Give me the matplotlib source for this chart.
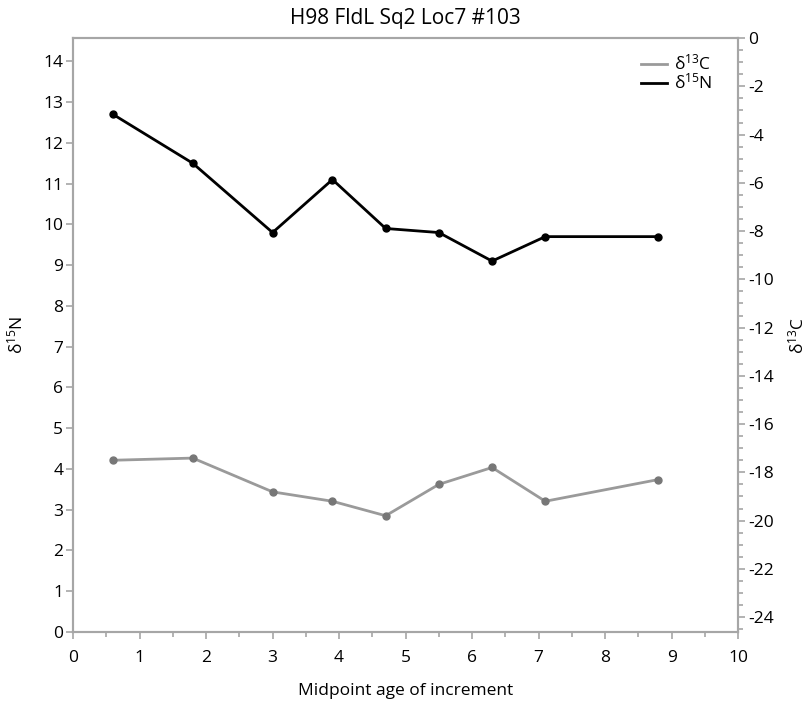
import matplotlib
matplotlib.use("Agg")
import matplotlib.pyplot as plt
from matplotlib.ticker import MultipleLocator

plt.rcParams['font.family'] = ['Open Sans', 'DejaVu Sans']
plt.rcParams['mathtext.fontset'] = 'custom'
plt.rcParams['mathtext.rm'] = 'Open Sans'
plt.rcParams['mathtext.it'] = 'Open Sans:italic'
plt.rcParams['axes.unicode_minus'] = False

title = "H98 FldL Sq2 Loc7 #103"
x_age = [0.6, 1.8, 3.0, 3.9, 4.7, 5.5, 6.3, 7.1, 8.8]
d15N = [12.7, 11.5, 9.8, 11.1, 9.9, 9.8, 9.1, 9.7, 9.7]
d13C = [-17.50, -17.41, -18.81, -19.2, -19.8, -18.50, -17.80, -19.2, -18.3]

spine_col = '#a6a6a6'
fig = plt.figure(figsize=(8.12, 7.02), dpi=100)
ax = fig.add_axes([0.09, 0.0997, 0.819, 0.846])
ax2 = ax.twinx()

lC, = ax2.plot(x_age, d13C, color='#9a9a9a', lw=2.0, marker='o', ms=5,
               mfc='#777777', mec='#777777', label=r'δ$^{13}$C')
lN, = ax.plot(x_age, d15N, color='black', lw=2.0, marker='o', ms=5,
              label=r'δ$^{15}$N')

ax.set_xlim(0, 10)
ax.set_ylim(0, 14.57)
ax2.set_ylim(-24.62, 0)
ax.xaxis.set_major_locator(MultipleLocator(1))
ax.xaxis.set_minor_locator(MultipleLocator(0.5))
ax.yaxis.set_major_locator(MultipleLocator(1))
ax2.yaxis.set_major_locator(MultipleLocator(2))
ax2.yaxis.set_minor_locator(MultipleLocator(0.5))

for a in (ax, ax2):
    for s in a.spines.values():
        s.set_color(spine_col)
        s.set_linewidth(1.5)
    a.tick_params(which='both', color=spine_col, width=1.2, labelsize=12.5)
    a.tick_params(which='major', length=5)
    a.tick_params(which='minor', length=3.5)
ax.tick_params(axis='x', which='major', pad=8)
ax.tick_params(axis='y', which='major', pad=2)
ax2.tick_params(axis='y', which='major', pad=2)

ax.set_title(title, fontsize=15, pad=10)
ax.set_xlabel('Midpoint age of increment', fontsize=12.5, labelpad=12)
ax.set_ylabel(r'δ$^{15}$N', fontsize=12.5, labelpad=12)
ax2.set_ylabel(r'δ$^{13}$C', fontsize=12.5, rotation=90, labelpad=10)

ax2.legend(handles=[lC, lN], loc='upper right', frameon=False, fontsize=12.5,
           handlelength=1.5, handletextpad=0.4, labelspacing=-0.05,
           bbox_to_anchor=(0.985, 1.0))
for h in ax2.get_legend().legend_handles:
    h.set_marker('')

fig.savefig('out.png', dpi=100)
